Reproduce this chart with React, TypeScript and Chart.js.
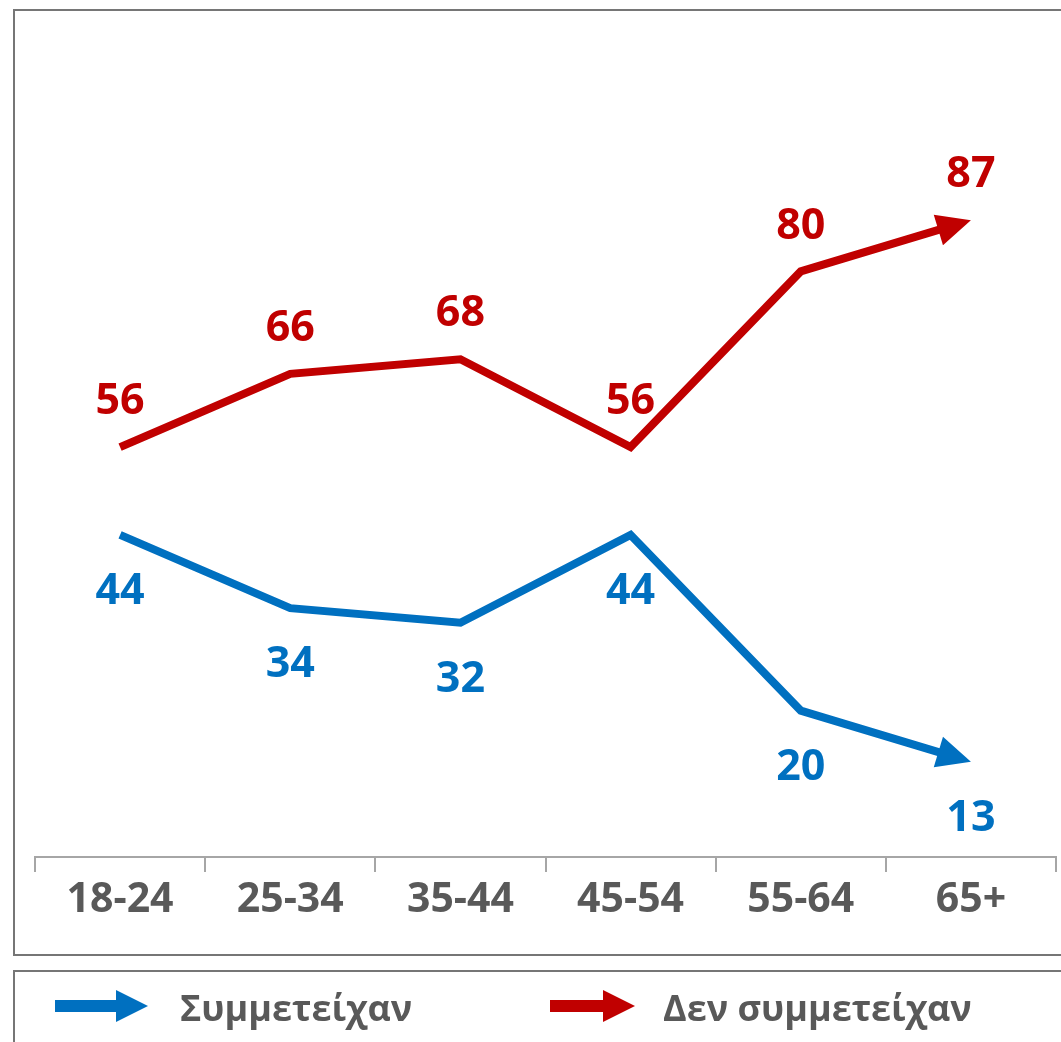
import React, { useEffect, useRef } from 'react';
import { Chart, registerables } from 'chart.js';

Chart.register(...registerables);

const categories = ['18-24', '25-34', '35-44', '45-54', '55-64', '65+'];
const participated = [44, 34, 32, 44, 20, 13];
const notParticipated = [56, 66, 68, 56, 80, 87];
const seriesNames = ['Συμμετείχαν', 'Δεν συμμετείχαν'];

const BLUE = '#0070C0';
const RED = '#C00000';
const GRAY_TEXT = '#595959';
const FONT = "'Open Sans', 'DejaVu Sans', sans-serif";

const W = 1061;
const H = 1042;

const arrowPlugin = {
  id: 'arrowEnds',
  geom(args: any) {
    const pts = args.meta.data;
    const n = pts.length;
    const t = pts[n - 1];
    const p = pts[n - 2];
    const dx = t.x - p.x;
    const dy = t.y - p.y;
    const len = Math.hypot(dx, dy) || 1;
    const ux = dx / len;
    const uy = dy / len;
    return { tx: t.x, ty: t.y, ux, uy, nx: -uy, ny: ux };
  },
  beforeDatasetDraw(chart: any, args: any) {
    const ctx = chart.ctx;
    const g = (arrowPlugin as any).geom(args);
    const L = 34;
    const R = 26;
    const bx = g.tx - g.ux * (L - 3);
    const by = g.ty - g.uy * (L - 3);
    const fx = g.tx + g.ux * 12;
    const fy = g.ty + g.uy * 12;
    ctx.save();
    ctx.beginPath();
    ctx.rect(0, 0, chart.width, chart.height);
    ctx.moveTo(bx + g.nx * R, by + g.ny * R);
    ctx.lineTo(fx + g.nx * R, fy + g.ny * R);
    ctx.lineTo(fx - g.nx * R, fy - g.ny * R);
    ctx.lineTo(bx - g.nx * R, by - g.ny * R);
    ctx.closePath();
    ctx.clip('evenodd');
  },
  afterDatasetDraw(chart: any, args: any) {
    const ctx = chart.ctx;
    ctx.restore();
    const g = (arrowPlugin as any).geom(args);
    const L = 34;
    const HW = 16;
    const bx = g.tx - g.ux * L;
    const by = g.ty - g.uy * L;
    ctx.save();
    ctx.fillStyle = chart.data.datasets[args.index].borderColor;
    ctx.beginPath();
    ctx.moveTo(g.tx, g.ty);
    ctx.lineTo(bx + g.nx * HW, by + g.ny * HW);
    ctx.lineTo(bx - g.nx * HW, by - g.ny * HW);
    ctx.closePath();
    ctx.fill();
    ctx.restore();
  },
};

const labelOffsets = [55, -47];

const labelPlugin = {
  id: 'valueLabels',
  afterDatasetsDraw(chart: any) {
    const ctx = chart.ctx;
    ctx.save();
    ctx.font = `bold 43px ${FONT}`;
    ctx.textAlign = 'center';
    ctx.textBaseline = 'middle';
    chart.data.datasets.forEach((ds: any, di: number) => {
      const meta = chart.getDatasetMeta(di);
      ctx.fillStyle = ds.borderColor;
      meta.data.forEach((pt: any, i: number) => {
        ctx.fillText(String(ds.data[i]), pt.x, pt.y + labelOffsets[di] + 2);
      });
    });
    ctx.restore();
  },
};

function ArrowIcon({ color, width }: { color: string; width: number }) {
  return (
    <svg width={width} height="34" viewBox={`0 0 ${width} 34`} style={{ display: 'block' }}>
      <rect x="0" y="11" width={width - 30} height="12" fill={color} />
      <polygon points={`${width - 32},1 ${width},17 ${width - 32},33`} fill={color} />
    </svg>
  );
}

export default function App() {
  const canvasRef = useRef<HTMLCanvasElement | null>(null);

  useEffect(() => {
    const canvas = canvasRef.current;
    if (!canvas) return;
    const chart = new Chart(canvas, {
      type: 'line',
      data: {
        labels: categories,
        datasets: [
          {
            label: seriesNames[0],
            data: participated,
            borderColor: BLUE,
            backgroundColor: BLUE,
            borderWidth: 8,
            pointRadius: 0,
            tension: 0,
            borderCapStyle: 'butt',
            borderJoinStyle: 'miter',
          },
          {
            label: seriesNames[1],
            data: notParticipated,
            borderColor: RED,
            backgroundColor: RED,
            borderWidth: 8,
            pointRadius: 0,
            tension: 0,
            borderCapStyle: 'butt',
            borderJoinStyle: 'miter',
          },
        ],
      },
      options: {
        responsive: false,
        animation: false,
        devicePixelRatio: 1,
        layout: { padding: { left: 35, right: 5, top: 125, bottom: H - 857 - 100 } },
        plugins: {
          legend: { display: false },
          tooltip: { enabled: false },
        },
        scales: {
          x: {
            type: 'category',
            offset: true,
            grid: {
              display: true,
              offset: true,
              drawOnChartArea: false,
              drawTicks: true,
              tickLength: 15,
              color: '#a6a6a6',
              lineWidth: 2,
            },
            border: { display: true, color: '#a6a6a6', width: 2 },
            ticks: {
              color: GRAY_TEXT,
              font: { family: FONT, size: 41, weight: 'bold' },
              padding: 4,
              maxRotation: 0,
              autoSkip: false,
            },
            afterFit: (s: any) => {
              s.height = 100;
            },
          },
          y: { display: false, min: 0, max: 100 },
        },
      },
      plugins: [arrowPlugin, labelPlugin],
    } as any);
    let alive = true;
    if ((document as any).fonts && (document as any).fonts.load) {
      Promise.all([
        (document as any).fonts.load(`bold 43px 'Open Sans'`),
      ]).then(() => {
        if (alive) chart.update();
      }).catch(() => {});
    }
    return () => {
      alive = false;
      chart.destroy();
    };
  }, []);

  const border = '2px solid #767676';

  return (
    <div style={{ position: 'fixed', left: 0, top: 0, width: W, height: H, overflow: 'hidden', background: '#fff' }}>
      <div style={{ position: 'absolute', left: 13, top: 9, width: 1100, height: 947, border, boxSizing: 'border-box' }} />
      <div style={{ position: 'absolute', left: 13, top: 970, width: 1100, height: 200, border, boxSizing: 'border-box' }} />
      <canvas
        ref={canvasRef}
        width={W}
        height={H}
        style={{ position: 'absolute', left: 0, top: 0, width: W, height: H, display: 'block' }}
      />
      <div style={{ position: 'absolute', left: 55, top: 989 }}>
        <ArrowIcon color={BLUE} width={93} />
      </div>
      <div
        style={{
          position: 'absolute', left: 180, top: 985, lineHeight: '46px', fontSize: 36,
          fontFamily: FONT, fontWeight: 'bold', color: GRAY_TEXT, whiteSpace: 'nowrap',
        }}
      >
        {seriesNames[0]}
      </div>
      <div style={{ position: 'absolute', left: 550, top: 989 }}>
        <ArrowIcon color={RED} width={85} />
      </div>
      <div
        style={{
          position: 'absolute', left: 663, top: 985, lineHeight: '46px', fontSize: 36,
          fontFamily: FONT, fontWeight: 'bold', color: GRAY_TEXT, whiteSpace: 'nowrap',
        }}
      >
        {seriesNames[1]}
      </div>
    </div>
  );
}
